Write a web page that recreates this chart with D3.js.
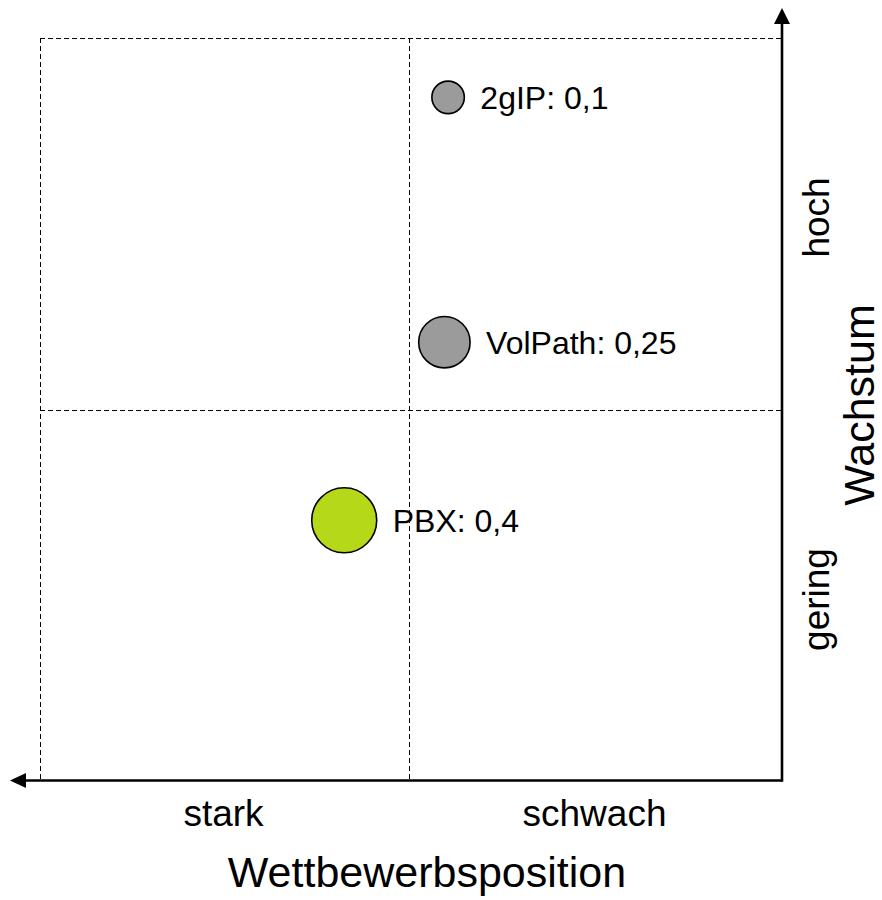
<!DOCTYPE html>
<html>
<head>
<meta charset="utf-8">
<script src="https://cdn.jsdelivr.net/npm/d3@7"></script>
<style>
  html, body { margin: 0; padding: 0; background: #fff; }
  text { font-family: "Liberation Sans", Arial, sans-serif; fill: #000; }
</style>
</head>
<body>
<svg id="chart" width="882" height="900"></svg>
<script>
// Portfolio bubbles: competitive position (x), growth (y), share (size)
const names = ["2gIP", "VolPath", "PBX"];
const position = [0.55, 0.545, 0.41];
const growth = [0.92, 0.59, 0.35];
const share = [0.1, 0.25, 0.4];
const shareLabels = ["0,1", "0,25", "0,4"];
const colors = ["#9b9b9b", "#9b9b9b", "#b5d818"];

const xCategories = ["stark", "schwach"];
const yCategories = ["gering", "hoch"];
const xTitle = "Wettbewerbsposition";
const yTitle = "Wachstum";

const svg = d3.select("#chart");
const plotLeft = 40, plotRight = 782, plotTop = 38, plotBottom = 780;

const x = d3.scaleLinear().domain([0, 1]).range([plotLeft, plotRight]);
const y = d3.scaleLinear().domain([0, 1]).range([plotBottom, plotTop]);
const r = d3.scaleSqrt().domain([0, 0.4]).range([0, 32.5]);
const xBand = d3.scaleBand().domain(xCategories).range([plotLeft, plotRight]);
const yBand = d3.scaleBand().domain(yCategories).range([plotBottom, plotTop]);

// Quadrant grid (dashed)
const grid = svg.append("g").attr("stroke", "#000").attr("stroke-width", 1)
  .attr("stroke-dasharray", "5,3").attr("fill", "none")
  .attr("shape-rendering", "crispEdges");
grid.append("line").attr("x1", x(0)).attr("x2", x(1)).attr("y1", y(1) + 0.5).attr("y2", y(1) + 0.5);
grid.append("line").attr("x1", x(0) + 0.5).attr("x2", x(0) + 0.5).attr("y1", y(1)).attr("y2", y(0));
grid.append("line").attr("x1", Math.round(x(0.497)) + 0.5).attr("x2", Math.round(x(0.497)) + 0.5).attr("y1", y(1)).attr("y2", y(0));
grid.append("line").attr("x1", x(0)).attr("x2", x(1)).attr("y1", Math.round(y(0.499)) + 0.5).attr("y2", Math.round(y(0.499)) + 0.5);

// Axes with arrowheads
const axis = svg.append("g");
axis.append("line").attr("x1", x(1)).attr("x2", 24).attr("y1", y(0) + 0.5).attr("y2", y(0) + 0.5)
  .attr("stroke", "#000").attr("stroke-width", 2.6);
axis.append("path")
  .attr("d", `M10,${y(0) + 0.5} L26,${y(0) + 0.5 - 7.5} L26,${y(0) + 0.5 + 7.5} Z`)
  .attr("fill", "#000");
axis.append("line").attr("x1", x(1)).attr("x2", x(1)).attr("y1", y(0) + 1.8).attr("y2", 22)
  .attr("stroke", "#000").attr("stroke-width", 2.6);
axis.append("path")
  .attr("d", `M${x(1)},8 L${x(1) - 8},24 L${x(1) + 8},24 Z`)
  .attr("fill", "#000");

// Category labels
svg.append("g").selectAll("text").data(xCategories).join("text")
  .attr("x", d => xBand(d) + xBand.bandwidth() / 2 - 2)
  .attr("y", 826)
  .attr("text-anchor", "middle")
  .attr("font-size", 37)
  .text(d => d);

const yNudge = { gering: 5, hoch: -6 };
svg.append("g").selectAll("text").data(yCategories).join("text")
  .attr("transform", d => `translate(829,${yBand(d) + yBand.bandwidth() / 2 + yNudge[d]}) rotate(-90)`)
  .attr("text-anchor", "middle")
  .attr("font-size", 37)
  .text(d => d);

// Axis titles
svg.append("text")
  .attr("x", 427).attr("y", 887)
  .attr("text-anchor", "middle")
  .attr("font-size", 43)
  .text(xTitle);
svg.append("text")
  .attr("transform", `translate(874,405) rotate(-90)`)
  .attr("text-anchor", "middle")
  .attr("font-size", 43)
  .text(yTitle);

// Bubbles and labels
const data = names.map((n, i) => ({ name: n, px: position[i], gy: growth[i], v: share[i], lab: shareLabels[i], c: colors[i] }));
const bubbles = svg.append("g");
bubbles.selectAll("circle").data(data).join("circle")
  .attr("cx", d => x(d.px))
  .attr("cy", d => y(d.gy))
  .attr("r", d => r(d.v))
  .attr("fill", d => d.c)
  .attr("stroke", "#000")
  .attr("stroke-width", 1.6);
bubbles.selectAll("text").data(data).join("text")
  .attr("x", d => x(d.px) + r(d.v) + 16)
  .attr("y", d => y(d.gy))
  .attr("dy", "0.36em")
  .attr("font-size", 32)
  .text(d => `${d.name}: ${d.lab}`);
</script>
</body>
</html>
